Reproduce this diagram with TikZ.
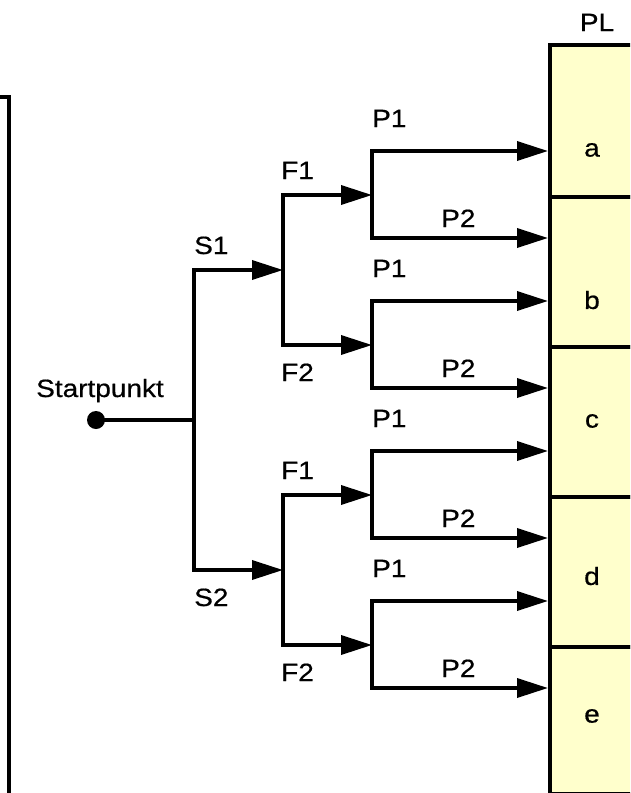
\documentclass[tikz,border=0pt]{standalone}
\usepackage{fontspec}
\setmainfont{Liberation Sans}[FakeStretch=1.12, FakeBold=0.6]
\usetikzlibrary{arrows.meta}
\definecolor{plfill}{RGB}{255,255,204}
\begin{document}
\begin{tikzpicture}[x=1pt,y=-1pt,
  ln/.style={line width=3.5pt, line cap=rect, line join=miter},
  arr/.style={line width=3.5pt, -{Triangle[length=31pt,width=19pt]}},
  lbl/.style={font=\fontsize{25}{25}\selectfont, inner sep=0pt},
  cell/.style={draw, line width=3.5pt, fill=plfill, inner sep=0pt, minimum width=120pt, anchor=north west, rectangle}]
\useasboundingbox (0,0) rectangle (630,793);
\clip (0,0) rectangle (630,793);
% frame
\draw[line width=3.5pt] (-5,97) -- (9,97) -- (9,800);
% PL cells
\node[cell, minimum height=152pt] (ca) at (548,43) {};
\node[cell, minimum height=150pt] (cb) at (548,195) {};
\node[cell, minimum height=150pt] (cc) at (548,345) {};
\node[cell, minimum height=150pt] (cd) at (548,495) {};
\node[cell, minimum height=147pt] (ce) at (548,645) {};
\node[lbl, anchor=base] (pl) at (597,31) {PL};
\node[lbl] (la) at (592,150) {a};
\node[lbl] (lb) at (592,300) {b};
\node[lbl] (lc) at (592,421) {c};
\node[lbl] (ld) at (592,576) {d};
\node[lbl] (le) at (592,716) {e};
% start
\node[circle, fill=black, inner sep=0pt, minimum size=18pt] (start) at (96,420) {};
\node[lbl, anchor=base] (startlbl) at (100,397) {Startpunkt};
\coordinate (j0) at (194,420);
\coordinate (s1) at (194,270);
\coordinate (s2) at (194,570);
\draw[ln] (start.center) -- (j0);
\draw[ln] (s1) -- (s2);
\node[lbl, anchor=base west] (s1l) at (194,254) {S1};
\node[lbl, anchor=base west] (s2l) at (194,606) {S2};
% F junctions
\foreach \n/\y in {a/270, b/570} {
  \coordinate (g\n) at (283,\y);
  \coordinate (g\n t) at (283,\y-75);
  \coordinate (g\n b) at (283,\y+75);
  \draw[ln] (g\n t) -- (g\n b);
}
\draw[arr] (s1) -- (ga);
\draw[arr] (s2) -- (gb);
\foreach \y in {179, 479} \node[lbl, anchor=base west] at (281,\y) {F1};
\foreach \y in {381, 681} \node[lbl, anchor=base west] at (281,\y) {F2};
% P junctions
\foreach \k/\src/\y in {1/gat/195, 2/gab/345, 3/gbt/495, 4/gbb/645} {
  \coordinate (h\k) at (372,\y);
  \coordinate (h\k t) at (372,\y-44);
  \coordinate (h\k b) at (372,\y+43);
  \draw[ln] (h\k t) -- (h\k b);
  \draw[arr] (\src) -- (h\k);
  \draw[arr] (h\k t) -- (ca.west |- h\k t);
  \draw[arr] (h\k b) -- (ca.west |- h\k b);
  \node[lbl, anchor=base west] (p1\k) at (372,\y-68) {P1};
  \node[lbl, anchor=base west] (p2\k) at (441,\y+32) {P2};
}
\end{tikzpicture}
\end{document}
